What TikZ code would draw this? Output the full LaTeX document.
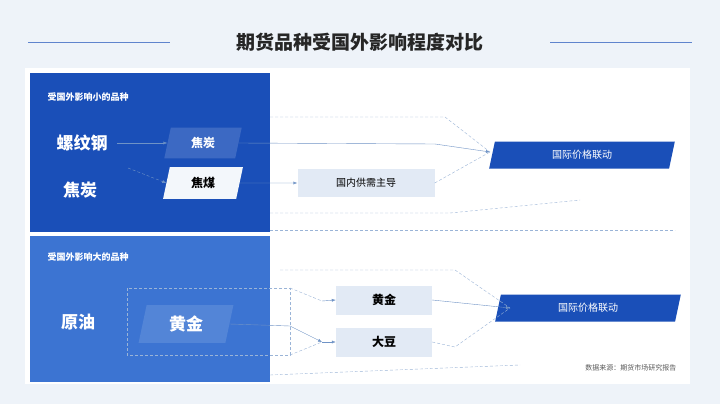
\documentclass[tikz,border=0pt]{standalone}
\usepackage{fontspec}
\setmainfont{Noto Sans CJK SC}
\newfontfamily\cjkbold[BoldFont={Noto Sans CJK SC Bold}]{Noto Sans CJK SC}
\usetikzlibrary{positioning, arrows.meta, shapes.geometric, calc}
\definecolor{deepblue}{HTML}{1A4FB8}
\definecolor{midblue}{HTML}{3C74D2}
\definecolor{paleblue}{HTML}{E2EAF5}
\definecolor{linkblue}{HTML}{6F93C6}
\definecolor{bgblue}{HTML}{EEF3F9}
\tikzset{
  slant/.style={trapezium, trapezium left angle=78, trapezium right angle=102, inner sep=0pt, font=\bfseries},
  flow/.style={linkblue, thin, -{Latex[length=4pt,width=3pt]}},
  faint/.style={linkblue!70, densely dashed, thin},
}
\begin{document}
\begin{tikzpicture}[x=1pt, y=-1pt]
  \useasboundingbox (0,0) rectangle (720,404);
  \fill[bgblue] (0,0) rectangle (720,404);
  \fill[white] (25,68) rectangle (690,384);

  % title
  \node[font=\bfseries\fontsize{19}{22}\selectfont, text=black!85] (title) at (360,42) {期货品种受国外影响程度对比};
  \draw[deepblue!70, thick] (28,42) -- (170,42) (550,42) -- (692,42);

  % panels
  \fill[deepblue] (30,73) rectangle (270,232);
  \fill[midblue] (30,236) rectangle (270,382);
  \node[anchor=west, white, font=\bfseries\small] (hsmall) at (44,97) {受国外影响小的品种};
  \node[anchor=west, white, font=\bfseries\small] (hbig) at (44,257) {受国外影响大的品种};

  % upper group
  \node[white, font=\bfseries\fontsize{17}{20}\selectfont] (rebar) at (82,143) {螺纹钢};
  \node[white, font=\bfseries\fontsize{17}{20}\selectfont] (coke) at (80,190) {焦炭};
  \node[slant, fill=white!15!deepblue, text=white, minimum width=78pt, minimum height=30pt, font=\bfseries\large] (cokebox) at (203,143) {焦炭};
  \node[slant, fill=paleblue!40, text=black, minimum width=80pt, minimum height=29pt, font=\bfseries\large] (coal) at (203,183) {焦煤};
  \node[fill=paleblue, minimum width=137pt, minimum height=28pt, font=\normalsize] (domestic) at (366,183) {国内供需主导};
  \node[slant, fill=deepblue, text=white, minimum width=145pt, minimum height=27pt, font=\normalsize] (intlA) at (582,155) {国际价格联动};

  \draw[flow] (rebar.east) ++(6,0) coordinate (r0) -- (cokebox.west |- r0);
  \draw[flow, densely dashed] (128,168) -- (coal.west);
  \draw[linkblue] (cokebox.east) -- (435,144) coordinate (k1);
  \draw[flow] (k1) -- (490,152);
  \draw[flow] (coal.east) -- (domestic.west);
  \draw[faint] (domestic.east) -- (490,152);
  \draw[faint] (270,117) -- (445,117) -- (490,152);
  \draw[faint] (270,213) -- (450,213) -- (580,200);
  \draw[faint] (270,230) -- (675,230);

  % lower group
  \node[white, font=\bfseries\fontsize{17}{20}\selectfont] (oil) at (78,322) {原油};
  \node[slant, fill=white!12!midblue, text=white, minimum width=95pt, minimum height=32pt, font=\bfseries\fontsize{17}{20}\selectfont] (gold) at (186,324) {黄金};
  \draw[faint] (127,288) rectangle (290,355);
  \node[fill=paleblue, minimum width=96pt, minimum height=29pt, font=\bfseries\large] (goldR) at (384,300) {黄金};
  \node[fill=paleblue, minimum width=96pt, minimum height=29pt, font=\bfseries\large] (soy) at (384,342) {大豆};
  \node[slant, fill=deepblue, text=white, minimum width=143pt, minimum height=27pt, font=\normalsize] (intlB) at (588,308) {国际价格联动};

  \draw[linkblue] (gold.east) -- (290,326) coordinate (g1);
  \draw[flow] (g1) -- (322,342) coordinate (g2);
  \draw[flow] (g2) -- (soy.west);
  \draw[faint] (290,288) -- (322,301) coordinate (g3);
  \draw[flow] (g3) -- (goldR.west);
  \draw[faint] (290,355) -- (322,342);
  \draw[flow] (goldR.east) -- (510,308);
  \draw[faint] (soy.east) -- (455,347) -- (510,308);
  \draw[faint] (280,270) -- (455,270) -- (510,308);
  \draw[faint] (270,375) -- (520,365);

  \node[anchor=east, black!65, font=\fontsize{7}{9}\selectfont] (source) at (680,368) {数据来源：期货市场研究报告};
\end{tikzpicture}
\end{document}
